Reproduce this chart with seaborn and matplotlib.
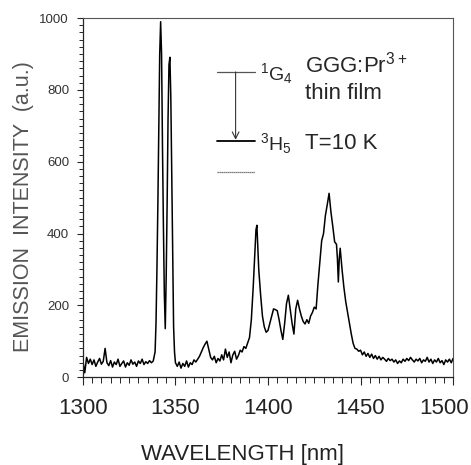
import matplotlib

matplotlib.use("Agg")
import matplotlib.pyplot as plt
import matplotlib.transforms as mtransforms
import numpy as np
import pandas as pd
import seaborn as sns
from matplotlib.ticker import MultipleLocator

# spectrum (wavelength in nm, intensity in a.u.)
wl_left = list(range(1300, 1338))
int_left = [45, 12, 55, 38, 50, 35, 48, 30, 42, 52, 36, 44, 80, 40, 32, 46, 28, 42, 35, 50,
            30, 38, 45, 28, 40, 33, 48, 36, 42, 30, 45, 38, 50, 35, 43, 38, 46, 40]

wl_peaks = [1338, 1339, 1339.5, 1340, 1340.5, 1341, 1341.5, 1342, 1342.5, 1343, 1343.5, 1344,
            1344.5, 1345, 1345.5, 1346, 1346.5, 1347, 1347.5, 1348, 1348.5, 1349, 1349.5, 1350]
int_peaks = [45, 70, 150, 300, 480, 700, 900, 990, 900, 640, 420, 230,
             135, 280, 480, 720, 870, 891, 780, 560, 330, 140, 70, 40]

wl_mid = list(range(1351, 1393))
int_mid = [30, 42, 25, 38, 30, 45, 28, 40, 35, 48, 42, 50, 58, 70, 82, 92, 100, 78, 55, 48,
           58, 40, 52, 45, 62, 48, 78, 55, 70, 40, 62, 72, 50, 60, 75, 70, 85, 80, 95, 110,
           160, 250]

wl_bands = [1393, 1393.5, 1394, 1394.5, 1395, 1396, 1397, 1398, 1399, 1400, 1401, 1402, 1403,
            1404, 1405, 1406, 1407, 1408, 1409, 1410, 1411, 1412, 1413, 1414, 1415, 1416, 1417,
            1418, 1419, 1420, 1421, 1422, 1423, 1424, 1425, 1426, 1427, 1428, 1429, 1430, 1431,
            1432, 1433, 1434, 1435, 1436, 1437, 1437.5, 1438, 1438.5, 1439, 1440, 1441, 1442,
            1443, 1444, 1445, 1446, 1447, 1448, 1449, 1450]
int_bands = [360, 410, 423, 360, 300, 230, 170, 140, 125, 130, 150, 170, 190,
             188, 185, 160, 130, 105, 150, 205, 228, 190, 150, 120, 190, 214, 190,
             170, 155, 148, 160, 150, 170, 180, 195, 190, 260, 320, 380, 400, 450,
             480, 512, 460, 420, 377, 370, 330, 265, 330, 359, 300, 250, 210,
             180, 150, 120, 94, 80, 78, 72, 75]

wl_right = list(range(1451, 1501))
int_right = [62, 70, 58, 66, 55, 64, 52, 60, 50, 58, 48, 55, 50, 44, 52, 46, 50, 42, 48, 38,
             45, 40, 50, 44, 52, 46, 55, 48, 42, 50, 45, 52, 40, 48, 44, 55, 42, 50, 38, 48,
             42, 52, 40, 46, 35, 48, 42, 50, 40, 52]

x_ticks = [1300, 1350, 1400, 1450, 1500]

# energy level scheme inset
level_x = [1372.3, 1393.0]
level_upper = 850
level_lower = 657
level_ground = 571

df = pd.DataFrame({
    "wavelength": wl_left + wl_peaks + wl_mid + wl_bands + wl_right,
    "intensity": int_left + int_peaks + int_mid + int_bands + int_right,
})

sns.set_style("ticks")
plt.rcParams["font.family"] = ["Liberation Sans", "DejaVu Sans"]
plt.rcParams["mathtext.fontset"] = "custom"
plt.rcParams["mathtext.rm"] = "Liberation Sans"

fig = plt.figure(figsize=(4.71, 4.65), dpi=100)
ax = fig.add_axes([0.176, 0.189, 0.786, 0.772])

sns.lineplot(data=df, x="wavelength", y="intensity", color="black", linewidth=1.1,
             sort=False, ax=ax)

ax.set_xlim(1300, 1500)
ax.set_ylim(0, 1000)
ax.set_xticks(x_ticks)
ax.xaxis.set_minor_locator(MultipleLocator(5))
ax.yaxis.set_major_locator(MultipleLocator(200))
ax.yaxis.set_minor_locator(MultipleLocator(20))
ax.tick_params(axis="x", which="major", direction="out", length=6, width=0.8, pad=9,
               labelsize=16, labelcolor="#222222")
ax.tick_params(axis="x", which="minor", direction="out", length=4, width=0.7)
ax.tick_params(axis="y", which="major", direction="out", length=4, width=0.8, pad=6,
               labelsize=9.5, labelcolor="#333333")
ax.tick_params(axis="y", which="minor", direction="out", length=3, width=0.7)

# last x label sits against the right edge of the figure, as in the reference
last = ax.xaxis.get_major_ticks()[-1].label1
last.set_horizontalalignment("right")
last.set_transform(last.get_transform()
                   + mtransforms.ScaledTranslation(16 / 100, 0, fig.dpi_scale_trans))

for side in ["left", "bottom"]:
    ax.spines[side].set_linewidth(0.9)
for side in ["top", "right"]:
    ax.spines[side].set_linewidth(0.8)
    ax.spines[side].set_color("#555555")
ax.set_xlabel("")
ax.set_ylabel("")

fig.text(0.515, 0.022, "WAVELENGTH [nm]", ha="center", va="center", fontsize=16,
         color="#222222")
fig.text(0.049, 0.555, "EMISSION  INTENSITY  (a.u.)", rotation=90, ha="center", va="center",
         fontsize=15.5, color="#555555")

# level scheme
ax.plot(level_x, [level_upper, level_upper], color="#555555", linewidth=0.9)
ax.plot(level_x, [level_lower, level_lower], color="black", linewidth=1.3)
ax.plot(level_x, [level_ground, level_ground], color="#555555", linewidth=0.9,
        linestyle=(0, (1, 0.6)))
ax.annotate("", xy=(1382.5, level_lower + 4), xytext=(1382.5, level_upper),
            arrowprops=dict(arrowstyle="->", color="#333333", linewidth=0.8,
                            mutation_scale=12, shrinkA=0, shrinkB=0))

ax.text(1395.5, level_upper - 5, r"$\mathregular{^{1}G_{4}}$", fontsize=14, ha="left", va="center")
ax.text(1395.5, level_lower - 5, r"$\mathregular{^{3}H_{5}}$", fontsize=14, ha="left", va="center")
ax.text(1420, 870, r"GGG:Pr$\mathregular{^{3+}}$", fontsize=16, ha="left", va="center")
ax.text(1420, 790, "thin film", fontsize=16, ha="left", va="center")
ax.text(1420, 652, "T=10 K", fontsize=16, ha="left", va="center")

fig.savefig("out.png", dpi=100)
